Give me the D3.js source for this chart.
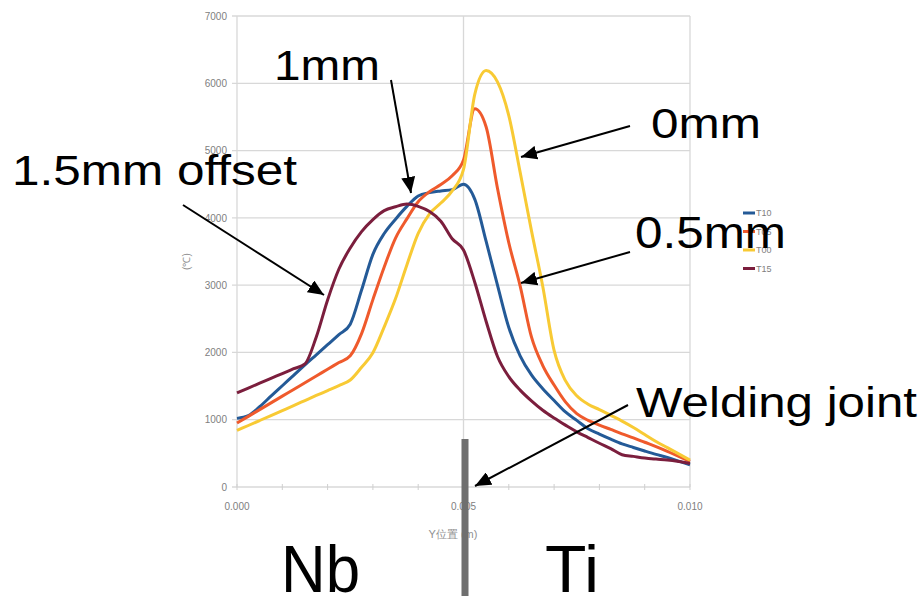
<!DOCTYPE html>
<html>
<head>
<meta charset="utf-8">
<script src="https://cdn.jsdelivr.net/npm/d3@7"></script>
<style>
    body { margin: 0; background: #fff; }
    text { font-family: "Liberation Sans", Arial, sans-serif; }
</style>
</head>
<body>
<div id="chart"></div>
<script>
// Y position along the weld (m)
var positions = [0.0000, 0.00025, 0.0005, 0.00075, 0.0010, 0.00125, 0.0015, 0.00175, 0.0020, 0.00225,
    0.0025, 0.00275, 0.0030, 0.00325, 0.0035, 0.00375, 0.0040, 0.00425, 0.0045, 0.00475,
    0.0050, 0.00525, 0.0055, 0.00575, 0.0060, 0.00625, 0.0065, 0.00675, 0.0070, 0.00725,
    0.0075, 0.00775, 0.0080, 0.00825, 0.0085, 0.00875, 0.0090, 0.00925, 0.0095, 0.00975, 0.0100];

// Temperature (deg C) per series
var t10 = [1020, 1060, 1193, 1350, 1505, 1660, 1815, 1965, 2115, 2265,
    2420, 2927, 3458, 3767, 3980, 4170, 4325, 4375, 4400, 4420,
    4500, 4275, 3650, 3000, 2370, 1950, 1665, 1460, 1285, 1115,
    990, 865, 785, 710, 640, 587, 535, 485, 440, 385, 330];
var t05 = [950, 1050, 1150, 1250, 1350, 1450, 1550, 1650, 1750, 1850,
    1950, 2280, 2785, 3270, 3700, 3985, 4240, 4390, 4495, 4625,
    4860, 5620, 5350, 4440, 3630, 2990, 2230, 1805, 1515, 1265,
    1090, 990, 920, 855, 790, 730, 665, 600, 530, 455, 380];
var t00 = [840, 914, 988, 1062, 1136, 1210, 1285, 1360, 1433, 1507,
    1590, 1780, 1995, 2380, 2800, 3300, 3770, 4060, 4220, 4400,
    4720, 5840, 6190, 6020, 5520, 4680, 3810, 2980, 2030, 1580,
    1355, 1230, 1150, 1065, 980, 885, 780, 676, 585, 493, 400];
var t15 = [1400, 1471, 1543, 1615, 1686, 1758, 1830, 2230, 2780, 3240,
    3553, 3796, 3975, 4108, 4165, 4205, 4170, 4093, 3950, 3690,
    3522, 3040, 2460, 1940, 1640, 1440, 1280, 1140, 1025, 920,
    820, 735, 650, 570, 480, 455, 430, 415, 403, 380, 350];

var seriesNames = ["T10", "T05", "T00", "T15"];
var seriesValues = [t10, t05, t00, t15];
var seriesColors = ["#245a97", "#ef5a2c", "#f8ca34", "#7b1e3d"];

var yTicks = [0, 1000, 2000, 3000, 4000, 5000, 6000, 7000];
var xMinorTicks = [0, 0.001, 0.002, 0.003, 0.004, 0.005, 0.006, 0.007, 0.008, 0.009, 0.010];
var xLabelTicks = [0, 0.005, 0.010];
var xTitle = "Y位置 (m)";
var yTitle = "(℃)";

// Overlay notes (pixel layout of the slide)
var notes = [
    {text: "1mm", x: 274, y: 80, len: 106, size: 42, from: [391, 80], to: [411, 193]},
    {text: "1.5mm offset", x: 12, y: 185, len: 285, size: 43, from: [183, 205], to: [324, 295]},
    {text: "0mm", x: 651, y: 138, len: 110, size: 42, from: [630, 126], to: [521, 157]},
    {text: "0.5mm", x: 635, y: 248, len: 151, size: 44, from: [630, 252], to: [521, 283]},
    {text: "Welding joint", x: 636, y: 417, len: 281, size: 42, from: [628, 405], to: [475, 486]}
];

var margin = {top: 16, right: 233, bottom: 109, left: 237},
    width = 923 - margin.left - margin.right,
    height = 596 - margin.top - margin.bottom;

var svgRoot = d3.select("#chart").append("svg")
    .attr("width", 923)
    .attr("height", 596);

svgRoot.append("rect").attr("width", 923).attr("height", 596).attr("fill", "#fff");

var svg = svgRoot.append("g")
    .attr("transform", "translate(" + margin.left + "," + margin.top + ")");

var x = d3.scaleLinear().domain([0, 0.010]).range([0, width]);
var y = d3.scaleLinear().domain([0, 7000]).range([height, 0]);

// horizontal grid
svg.append("g")
    .selectAll("line")
    .data(yTicks)
    .enter().append("line")
    .attr("x1", -5).attr("x2", width)
    .attr("y1", function (d) {return y(d);})
    .attr("y2", function (d) {return y(d);})
    .attr("stroke", "#d8d8d8")
    .attr("stroke-width", 1.3);

// vertical grid
svg.append("g")
    .selectAll("line")
    .data(xLabelTicks)
    .enter().append("line")
    .attr("x1", function (d) {return x(d);})
    .attr("x2", function (d) {return x(d);})
    .attr("y1", 0).attr("y2", height)
    .attr("stroke", "#d8d8d8")
    .attr("stroke-width", 1.3);

// y axis labels
var yAxis = svg.append("g")
    .call(d3.axisLeft(y).tickValues(yTicks).tickFormat(d3.format("d")).tickSize(0).tickPadding(10));
yAxis.select(".domain").remove();
yAxis.selectAll("text")
    .style("fill", "#808080")
    .style("font-size", "10px");

// x axis: small ticks every mm, labels at 0 / 5 / 10 mm
svg.append("g")
    .selectAll("line")
    .data(xMinorTicks)
    .enter().append("line")
    .attr("x1", function (d) {return x(d);})
    .attr("x2", function (d) {return x(d);})
    .attr("y1", height - 3).attr("y2", height + 3)
    .attr("stroke", "#cfcfcf")
    .attr("stroke-width", 1);

svg.append("g")
    .selectAll("text")
    .data(xLabelTicks)
    .enter().append("text")
    .attr("x", function (d) {return x(d);})
    .attr("y", height + 23)
    .attr("text-anchor", "middle")
    .style("fill", "#808080")
    .style("font-size", "10px")
    .text(d3.format(".3f"));

svg.append("text")
    .attr("x", 216)
    .attr("y", height + 51)
    .attr("text-anchor", "middle")
    .style("fill", "#909090")
    .style("font-size", "11px")
    .text(xTitle);

svg.append("text")
    .attr("transform", "translate(-47," + (y(3350)) + ") rotate(-90)")
    .attr("text-anchor", "middle")
    .style("fill", "#909090")
    .style("font-size", "10px")
    .text(yTitle);

// temperature curves
var line = d3.line()
    .x(function (d, i) {return x(positions[i]);})
    .y(function (d) {return y(d);})
    .curve(d3.curveMonotoneX);

svg.append("g")
    .selectAll("path")
    .data(seriesValues)
    .enter().append("path")
    .attr("d", line)
    .attr("fill", "none")
    .attr("stroke", function (d, i) {return seriesColors[i];})
    .attr("stroke-width", 3)
    .attr("stroke-linejoin", "round");

// legend
var legend = svgRoot.append("g")
    .attr("transform", "translate(743,213)");
var legendItem = legend.selectAll("g")
    .data(seriesNames)
    .enter().append("g")
    .attr("transform", function (d, i) {return "translate(0," + (i * 18.5) + ")";});
legendItem.append("line")
    .attr("x1", 0).attr("x2", 12)
    .attr("stroke", function (d, i) {return seriesColors[i];})
    .attr("stroke-width", 3);
legendItem.append("text")
    .attr("x", 13)
    .attr("dy", "0.35em")
    .style("fill", "#808080")
    .style("font-size", "9px")
    .text(function (d) {return d;});

// weld joint bar
svgRoot.append("rect")
    .attr("x", margin.left + x(0.005) - 2)
    .attr("y", 439)
    .attr("width", 7)
    .attr("height", 157)
    .attr("fill", "#6f6f6f");

// arrows + labels
svgRoot.append("defs").append("marker")
    .attr("id", "head")
    .attr("viewBox", "0 0 16 14")
    .attr("refX", 16).attr("refY", 7)
    .attr("markerWidth", 16).attr("markerHeight", 14)
    .attr("markerUnits", "userSpaceOnUse")
    .attr("orient", "auto")
    .append("path")
    .attr("d", "M0,0L16,7L0,14Z")
    .attr("fill", "#000");

svgRoot.append("g")
    .selectAll("line")
    .data(notes)
    .enter().append("line")
    .attr("x1", function (d) {return d.from[0];})
    .attr("y1", function (d) {return d.from[1];})
    .attr("x2", function (d) {return d.to[0];})
    .attr("y2", function (d) {return d.to[1];})
    .attr("stroke", "#000")
    .attr("stroke-width", 2)
    .attr("marker-end", "url(#head)");

svgRoot.append("g")
    .selectAll("text")
    .data(notes)
    .enter().append("text")
    .attr("x", function (d) {return d.x;})
    .attr("y", function (d) {return d.y;})
    .attr("textLength", function (d) {return d.len;})
    .attr("lengthAdjust", "spacingAndGlyphs")
    .style("font-size", function (d) {return d.size + "px";})
    .style("fill", "#000")
    .text(function (d) {return d.text;});

svgRoot.append("text").attr("x", 281).attr("y", 592)
    .attr("textLength", 79).attr("lengthAdjust", "spacingAndGlyphs")
    .style("font-size", "66px").text("Nb");
svgRoot.append("text").attr("x", 545).attr("y", 592)
    .attr("textLength", 54).attr("lengthAdjust", "spacingAndGlyphs")
    .style("font-size", "66px").text("Ti");
</script>
</body>
</html>
